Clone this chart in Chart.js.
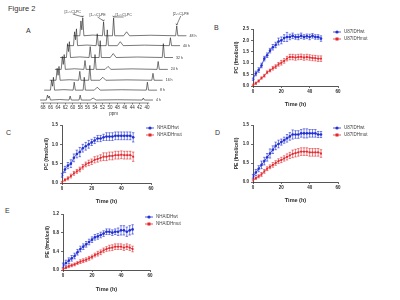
<!DOCTYPE html>
<html>
<head>
<meta charset="utf-8">
<script src="https://cdn.jsdelivr.net/npm/chart.js@4.4.1/dist/chart.umd.min.js"></script>
<style>
body{margin:0;background:#fff;width:400px;height:300px;position:relative;overflow:hidden;font-family:Arial,"Liberation Sans",sans-serif;}
canvas{position:absolute;}
.lbl{position:absolute;color:#333;font-size:7px;line-height:1;}
</style>
</head>
<body>
<div class="lbl" style="left:8px;top:5px;font-size:7.5px">Figure 2</div>
<div class="lbl" style="left:26px;top:27px">A</div>
<div class="lbl" style="left:214px;top:24px">B</div>
<div class="lbl" style="left:6px;top:129px">C</div>
<div class="lbl" style="left:215px;top:129px">D</div>
<div class="lbl" style="left:5px;top:207px">E</div>

<canvas id="specA" width="200" height="120" style="left:0;top:0"></canvas>
<canvas id="chartB" width="185" height="95" style="left:215px;top:20px"></canvas>
<canvas id="chartC" width="170" height="95" style="left:30px;top:115px"></canvas>
<canvas id="chartD" width="185" height="95" style="left:215px;top:115px"></canvas>
<canvas id="chartE" width="170" height="96" style="left:30px;top:204px"></canvas>

<script>
// ---- panel A : stacked 13C spectra ----
const traceHours = ["4 h", "8 h", "16 h", "24 h", "32 h", "40 h", "48 h"];
const ppmTicks = [68, 66, 64, 62, 60, 58, 56, 54, 52, 50, 48, 46, 44, 42, 40];
const specPpm = [68.8, 67.1, 66.8, 66.55, 66.3, 66.0, 63.5, 61.0, 60.7, 60.4, 58.3, 58.0, 57.7, 55.3, 54.5, 53.7, 48.0, 41.3, 41.0, 40.7, 38.4];
const spec4h  = [0, 0, 5, 2, 4, 0, 0.5, 0, 4, 0, 0, 5, 0, 0, 2, 0, 0.3, 0, 2, 0, 0];
const spec8h  = [0, 0, 10, 4, 13, 0, 0.5, 0, 8, 0, 0, 13, 0, 0, 3, 0, 0.4, 0, 8, 0, 0];
const spec16h = [0, 0, 12, 5, 14, 0, 0.5, 0, 9, 0, 0, 15, 0, 0, 3, 0, 0.4, 0, 7, 0, 0];
const spec24h = [0, 0, 13, 5, 15, 0, 0.6, 0, 9, 0, 0, 15, 0, 0, 3, 0, 0.5, 0, 8, 0, 0];
const spec32h = [0, 0, 14, 6, 16, 0, 0.6, 0, 11, 0, 0, 17, 0, 0, 4, 0, 0.5, 0, 14, 0, 0];
const spec40h = [0, 0, 14, 6, 17, 0, 0.6, 0, 12, 0, 0, 16, 0, 0, 4, 0, 0.5, 0, 8, 0, 0];
const spec48h = [0, 0, 15, 6, 18, 0, 0.7, 0, 14, 0, 0, 18, 0, 0, 4, 0, 0.5, 0, 10, 0, 0];
const spectra = [spec4h, spec8h, spec16h, spec24h, spec32h, spec40h, spec48h];
// stacking offsets of each trace (ppm to the right, intensity up)
const traceShift = [0, 1.1, 2.6, 4, 5.4, 7.3, 9];
const traceLift = [0, 10, 20, 31, 43, 55, 65];
const peakNames = ["[2-\u00b9\u00b3C]-PC", "[1-\u00b9\u00b3C]-PE", "[1-\u00b9\u00b3C]-PC", "[2-\u00b9\u00b3C]-PE"];
const peakPpm = [66.3, 60.7, 58.0, 41.0];

// ---- panels B-E : time courses ----
const hours = [0, 2, 4, 6, 8, 10, 12, 14, 16, 18, 20, 22, 24, 26, 28, 30, 32, 34, 36, 38, 40, 42, 44, 46, 48];

const u87PcWt  = [0.3, 0.55, 0.7, 0.9, 1.2, 1.35, 1.55, 1.7, 1.8, 1.95, 2.0, 2.1, 2.15, 2.15, 2.2, 2.15, 2.15, 2.2, 2.15, 2.18, 2.15, 2.2, 2.15, 2.15, 2.08];
const u87PcWtErr = [0.05, 0.1, 0.1, 0.1, 0.1, 0.1, 0.1, 0.12, 0.12, 0.15, 0.15, 0.15, 0.2, 0.12, 0.12, 0.1, 0.12, 0.12, 0.1, 0.1, 0.12, 0.1, 0.1, 0.1, 0.12];
const u87PcMut = [0.05, 0.12, 0.22, 0.35, 0.45, 0.6, 0.68, 0.78, 0.85, 0.95, 1.02, 1.1, 1.2, 1.27, 1.27, 1.25, 1.27, 1.28, 1.25, 1.27, 1.25, 1.23, 1.22, 1.2, 1.2];
const u87PcMutErr = [0.03, 0.05, 0.05, 0.05, 0.06, 0.06, 0.06, 0.08, 0.08, 0.08, 0.1, 0.1, 0.1, 0.12, 0.12, 0.12, 0.12, 0.12, 0.12, 0.12, 0.12, 0.12, 0.12, 0.12, 0.12];

const nhaPcWt  = [0.2, 0.35, 0.45, 0.5, 0.65, 0.75, 0.8, 0.9, 0.95, 1.0, 1.05, 1.1, 1.15, 1.15, 1.18, 1.2, 1.2, 1.2, 1.22, 1.22, 1.22, 1.22, 1.22, 1.22, 1.18];
const nhaPcWtErr = [0.05, 0.08, 0.08, 0.1, 0.1, 0.1, 0.12, 0.1, 0.1, 0.1, 0.08, 0.08, 0.08, 0.08, 0.08, 0.1, 0.1, 0.1, 0.1, 0.1, 0.1, 0.1, 0.1, 0.1, 0.12];
const nhaPcMut = [0.02, 0.08, 0.12, 0.18, 0.25, 0.3, 0.35, 0.42, 0.48, 0.52, 0.55, 0.6, 0.62, 0.65, 0.68, 0.68, 0.7, 0.7, 0.72, 0.72, 0.73, 0.72, 0.72, 0.72, 0.68];
const nhaPcMutErr = [0.02, 0.03, 0.04, 0.05, 0.05, 0.05, 0.06, 0.06, 0.06, 0.07, 0.07, 0.08, 0.08, 0.08, 0.1, 0.1, 0.1, 0.1, 0.1, 0.1, 0.1, 0.1, 0.1, 0.1, 0.12];

const u87PeWt  = [0.15, 0.25, 0.35, 0.45, 0.55, 0.65, 0.75, 0.85, 0.95, 1.0, 1.05, 1.1, 1.15, 1.2, 1.25, 1.25, 1.25, 1.28, 1.28, 1.28, 1.28, 1.28, 1.28, 1.25, 1.25];
const u87PeWtErr = [0.05, 0.08, 0.08, 0.1, 0.1, 0.1, 0.12, 0.1, 0.1, 0.1, 0.08, 0.08, 0.1, 0.1, 0.12, 0.1, 0.1, 0.1, 0.12, 0.12, 0.1, 0.1, 0.1, 0.08, 0.08];
const u87PeMut = [0.05, 0.1, 0.15, 0.2, 0.28, 0.35, 0.4, 0.45, 0.5, 0.55, 0.58, 0.62, 0.66, 0.7, 0.74, 0.76, 0.78, 0.8, 0.8, 0.8, 0.78, 0.78, 0.78, 0.78, 0.75];
const u87PeMutErr = [0.02, 0.03, 0.04, 0.05, 0.05, 0.05, 0.05, 0.06, 0.06, 0.06, 0.07, 0.07, 0.08, 0.08, 0.1, 0.1, 0.1, 0.1, 0.1, 0.1, 0.1, 0.1, 0.1, 0.1, 0.1];

const nhaPeWt  = [0.1, 0.15, 0.2, 0.25, 0.3, 0.38, 0.45, 0.5, 0.55, 0.6, 0.65, 0.7, 0.72, 0.75, 0.78, 0.82, 0.82, 0.8, 0.82, 0.82, 0.85, 0.85, 0.82, 0.85, 0.87];
const nhaPeWtErr = [0.05, 0.06, 0.06, 0.06, 0.06, 0.06, 0.06, 0.06, 0.06, 0.06, 0.06, 0.06, 0.06, 0.06, 0.06, 0.06, 0.06, 0.06, 0.06, 0.08, 0.1, 0.1, 0.1, 0.1, 0.1];
const nhaPeMut = [0.02, 0.05, 0.08, 0.1, 0.12, 0.15, 0.18, 0.2, 0.22, 0.25, 0.28, 0.32, 0.35, 0.38, 0.42, 0.45, 0.47, 0.48, 0.5, 0.5, 0.5, 0.48, 0.5, 0.48, 0.45];
const nhaPeMutErr = [0.02, 0.02, 0.03, 0.03, 0.03, 0.03, 0.04, 0.04, 0.04, 0.04, 0.04, 0.04, 0.05, 0.05, 0.05, 0.05, 0.06, 0.06, 0.06, 0.06, 0.06, 0.06, 0.06, 0.06, 0.06];

const BLUE = "#2230d4";
const RED = "#e2262c";
const INK = "#2a2a2a";

// error bars with caps
const errorBars = {
  id: "errorBars",
  afterDatasetsDraw(chart) {
    const ctx = chart.ctx;
    const ys = chart.scales.y;
    chart.data.datasets.forEach((ds, di) => {
      if (!ds.errors) return;
      const meta = chart.getDatasetMeta(di);
      ctx.save();
      ctx.strokeStyle = ds.borderColor;
      ctx.lineWidth = 0.6;
      meta.data.forEach((pt, i) => {
        const v = ds.data[i].y;
        const y1 = ys.getPixelForValue(v + ds.errors[i]);
        const y2 = ys.getPixelForValue(v - ds.errors[i]);
        ctx.beginPath();
        ctx.moveTo(pt.x, y1); ctx.lineTo(pt.x, y2);
        ctx.moveTo(pt.x - 1.2, y1); ctx.lineTo(pt.x + 1.2, y1);
        ctx.moveTo(pt.x - 1.2, y2); ctx.lineTo(pt.x + 1.2, y2);
        ctx.stroke();
      });
      ctx.restore();
    });
  }
};

// small legend to the right of the plot area
const sideLegend = {
  id: "sideLegend",
  afterDraw(chart) {
    const { ctx, chartArea } = chart;
    chart.data.datasets.forEach((ds, i) => {
      const x = chartArea.right - 1;
      const y = chartArea.top + 3 + i * 7;
      ctx.save();
      ctx.strokeStyle = ds.borderColor;
      ctx.fillStyle = ds.backgroundColor;
      ctx.lineWidth = 0.8;
      ctx.beginPath();
      ctx.moveTo(x - 4, y); ctx.lineTo(x + 4, y);
      ctx.stroke();
      if (ds.pointStyle === "rect") {
        ctx.fillRect(x - 1.5, y - 1.5, 3, 3);
      } else {
        ctx.beginPath(); ctx.arc(x, y, 1.6, 0, Math.PI * 2); ctx.fill();
      }
      ctx.fillStyle = "#444";
      ctx.font = "4.5px Arial";
      ctx.textBaseline = "middle";
      ctx.fillText(ds.label, chartArea.right + 6, y);
      ctx.restore();
    });
  }
};

function makePanel(id, geo, wt, wtErr, mut, mutErr, yMax, yStep, yTitle, names) {
  const tickFont = { family: "Arial", size: 4.5, weight: "bold" };
  const axisGrid = { drawOnChartArea: false, drawTicks: true, tickLength: 2, color: INK, lineWidth: 0.7 };
  const axisBorder = { display: true, color: INK, width: 0.8 };
  new Chart(document.getElementById(id), {
    type: "line",
    data: {
      datasets: [
        { label: names[0], data: hours.map((h, i) => ({ x: h, y: wt[i] })), errors: wtErr,
          borderColor: BLUE, backgroundColor: BLUE, pointStyle: "circle" },
        { label: names[1], data: hours.map((h, i) => ({ x: h, y: mut[i] })), errors: mutErr,
          borderColor: RED, backgroundColor: RED, pointStyle: "rect" }
      ]
    },
    options: {
      responsive: false,
      animation: false,
      layout: { padding: { left: geo.padL, right: geo.padR, top: geo.padT, bottom: geo.padB } },
      elements: {
        line: { borderWidth: 0.8, cubicInterpolationMode: "monotone" },
        point: { radius: 1.3, borderWidth: 0 }
      },
      plugins: { legend: { display: false }, tooltip: { enabled: false } },
      scales: {
        x: {
          type: "linear", min: 0, max: 60,
          ticks: { stepSize: 20, font: tickFont, color: INK, padding: 1.5, maxRotation: 0 },
          grid: axisGrid, border: axisBorder,
          title: { display: true, text: "Time (h)", font: { family: "Arial", size: 5.5, weight: "bold" }, color: INK, padding: 0 },
          afterFit: (s) => { s.height = geo.xH; }
        },
        y: {
          min: 0, max: yMax,
          ticks: { stepSize: yStep, font: tickFont, color: INK, padding: 2, callback: (v) => v.toFixed(1) },
          grid: axisGrid, border: axisBorder,
          title: { display: true, text: yTitle, font: { family: "Arial", size: 5, weight: "bold" }, color: INK, padding: 0 },
          afterFit: (s) => { s.width = geo.yW; }
        }
      }
    },
    plugins: [errorBars, sideLegend]
  });
}

makePanel("chartB", { padL: 19, yW: 19, padR: 62, padT: 9, padB: 7.7, xH: 21.3 },
  u87PcWt, u87PcWtErr, u87PcMut, u87PcMutErr, 2.5, 0.5, "PC (fmol/cell)", ["U87IDHwt", "U87IDHmut"]);
makePanel("chartC", { padL: 14, yW: 18, padR: 49, padT: 10, padB: 5.7, xH: 21.3 },
  nhaPcWt, nhaPcWtErr, nhaPcMut, nhaPcMutErr, 1.5, 0.5, "PC (fmol/cell)", ["NHAIDHwt", "NHAIDHmut"]);
makePanel("chartD", { padL: 19, yW: 19, padR: 62, padT: 10, padB: 6.7, xH: 21.3 },
  u87PeWt, u87PeWtErr, u87PeMut, u87PeMutErr, 1.5, 0.5, "PE (fmol/cell)", ["U87IDHwt", "U87IDHmut"]);
makePanel("chartE", { padL: 15, yW: 18, padR: 50, padT: 10, padB: 7.7, xH: 22.3 },
  nhaPeWt, nhaPeWtErr, nhaPeMut, nhaPeMutErr, 1.2, 0.4, "PE (fmol/cell)", ["NHAIDHwt", "NHAIDHmut"]);

// axis line, trace times and peak names for the spectra
const specDecor = {
  id: "specDecor",
  afterDraw(chart) {
    const ctx = chart.ctx;
    const xs = chart.scales.x;
    ctx.save();
    ctx.strokeStyle = "#333";
    ctx.lineWidth = 0.6;
    ctx.beginPath();
    ctx.moveTo(xs.getPixelForValue(68.6), xs.top);
    ctx.lineTo(xs.getPixelForValue(39.4), xs.top);
    ctx.stroke();

    ctx.fillStyle = "#333";
    ctx.font = "3.6px Arial";
    ctx.textBaseline = "middle";
    chart.data.datasets.forEach((ds, k) => {
      const pts = chart.getDatasetMeta(k).data;
      const last = pts[pts.length - 1];
      ctx.fillText(traceHours[k], last.x + 3, last.y);
    });

    const top = chart.getDatasetMeta(spectra.length - 1).data;
    const dx = [-10, -6, 10, 4];
    const ty = [12, 15, 15, 14];
    ctx.textAlign = "center";
    peakPpm.forEach((p, j) => {
      const pt = top[specPpm.indexOf(p)];
      const tx = pt.x + dx[j];
      ctx.fillText(peakNames[j], tx, ty[j]);
      ctx.beginPath();
      ctx.moveTo(tx, ty[j] + 2);
      ctx.lineTo(pt.x, pt.y - 1);
      ctx.stroke();
      ctx.beginPath();
      ctx.moveTo(pt.x - 0.8, pt.y - 2.2);
      ctx.lineTo(pt.x, pt.y - 0.8);
      ctx.lineTo(pt.x + 0.8, pt.y - 2.2);
      ctx.stroke();
    });
    ctx.restore();
  }
};

new Chart(document.getElementById("specA"), {
  type: "line",
  data: {
    datasets: spectra.map((s, k) => ({
      label: traceHours[k],
      data: specPpm.map((p, i) => ({ x: p - traceShift[k], y: s[i] + traceLift[k] })),
      borderColor: "#1e1e1e",
      borderWidth: 0.6,
      pointRadius: 0,
      tension: 0
    }))
  },
  options: {
    responsive: false,
    animation: false,
    layout: { padding: { left: 35.6, right: 8.4, top: 14, bottom: 4 } },
    plugins: { legend: { display: false }, tooltip: { enabled: false } },
    scales: {
      x: {
        type: "linear", reverse: true, min: 28, max: 70,
        afterBuildTicks: (s) => { s.ticks = ppmTicks.map((v) => ({ value: v })); },
        ticks: { autoSkip: false, maxRotation: 0, font: { family: "Arial", size: 4.5 }, color: "#333", padding: 1 },
        grid: { drawOnChartArea: false, tickLength: 1.5, color: "#333", lineWidth: 0.6 },
        border: { display: false },
        title: { display: true, text: "ppm", font: { family: "Arial", size: 4.5 }, color: "#333", padding: 0 },
        afterFit: (s) => { s.height = 13; }
      },
      y: { display: false, min: -3, max: 87 }
    }
  },
  plugins: [specDecor]
});
</script>
</body>
</html>
